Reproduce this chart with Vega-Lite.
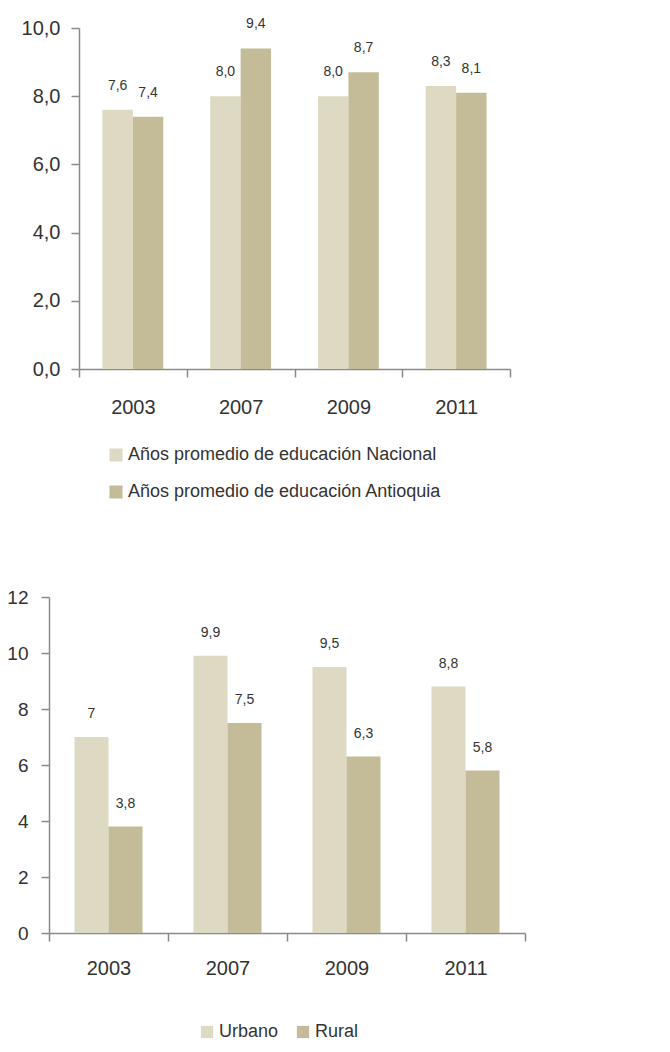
{
  "$schema": "https://vega.github.io/schema/vega-lite/v6.json",
  "background": "white",
  "padding": {"left": 6, "top": 17, "right": 5, "bottom": 5},
  "spacing": 87,
  "config": {
    "locale": {"number": {"decimal": ",", "thousands": ".", "grouping": [3], "currency": ["$", ""]}},
    "font": "Liberation Sans",
    "view": {"stroke": null},
    "axis": {
      "labelFont": "Liberation Sans",
      "labelColor": "#333333",
      "domainColor": "#8a8a8a",
      "tickColor": "#8a8a8a",
      "domainWidth": 1.5,
      "tickWidth": 1.5,
      "tickSize": 8,
      "grid": false
    },
    "legend": {
      "labelFont": "Liberation Sans",
      "labelColor": "#333333",
      "symbolType": "square",
      "symbolStrokeWidth": 0,
      "labelOffset": 3,
      "labelLimit": 500
    }
  },
  "resolve": {
    "scale": {"color": "independent", "xOffset": "independent"},
    "legend": {"color": "independent"}
  },
  "vconcat": [
    {
      "width": 461,
      "height": 341,
      "data": {
        "values": [
          {"year": "2003", "serie": "Años promedio de educación Nacional", "value": 7.6},
          {"year": "2003", "serie": "Años promedio de educación Antioquia", "value": 7.4},
          {"year": "2007", "serie": "Años promedio de educación Nacional", "value": 8.0},
          {"year": "2007", "serie": "Años promedio de educación Antioquia", "value": 9.4},
          {"year": "2009", "serie": "Años promedio de educación Nacional", "value": 8.0},
          {"year": "2009", "serie": "Años promedio de educación Antioquia", "value": 8.7},
          {"year": "2011", "serie": "Años promedio de educación Nacional", "value": 8.3},
          {"year": "2011", "serie": "Años promedio de educación Antioquia", "value": 8.1}
        ]
      },
      "encoding": {
        "x": {
          "field": "year", "type": "nominal",
          "scale": {"paddingInner": 0, "paddingOuter": 0, "range": [30, 461]},
          "axis": {"labelAngle": 0, "tickBand": "extent", "labelFontSize": 20, "labelPadding": 20, "title": null}
        },
        "xOffset": {
          "field": "serie", "type": "nominal",
          "sort": ["Años promedio de educación Nacional", "Años promedio de educación Antioquia"],
          "scale": {"paddingInner": 0, "paddingOuter": 0.77}
        },
        "y": {
          "field": "value", "type": "quantitative",
          "scale": {"domain": [0, 10]},
          "axis": {"values": [0, 2, 4, 6, 8, 10], "format": ".1f", "labelFontSize": 20, "labelPadding": 11, "offset": -30, "title": null}
        }
      },
      "layer": [
        {
          "mark": {"type": "bar"},
          "encoding": {
            "color": {
              "field": "serie", "type": "nominal",
              "sort": ["Años promedio de educación Nacional", "Años promedio de educación Antioquia"],
              "scale": {"range": ["#DED9C3", "#C4BC98"]},
              "legend": {
                "title": null, "orient": "none", "legendX": 58, "legendY": 418,
                "direction": "vertical", "labelFontSize": 18, "symbolSize": 170, "rowPadding": 19
              }
            }
          }
        },
        {
          "mark": {"type": "text", "baseline": "bottom", "dy": -17, "fontSize": 14, "color": "#333333"},
          "encoding": {"text": {"field": "value", "type": "quantitative", "format": ".1f"}}
        }
      ]
    },
    {
      "width": 476,
      "height": 336,
      "data": {
        "values": [
          {"year": "2003", "zona": "Urbano", "value": 7},
          {"year": "2003", "zona": "Rural", "value": 3.8},
          {"year": "2007", "zona": "Urbano", "value": 9.9},
          {"year": "2007", "zona": "Rural", "value": 7.5},
          {"year": "2009", "zona": "Urbano", "value": 9.5},
          {"year": "2009", "zona": "Rural", "value": 6.3},
          {"year": "2011", "zona": "Urbano", "value": 8.8},
          {"year": "2011", "zona": "Rural", "value": 5.8}
        ]
      },
      "encoding": {
        "x": {
          "field": "year", "type": "nominal",
          "scale": {"paddingInner": 0, "paddingOuter": 0},
          "axis": {"labelAngle": 0, "tickBand": "extent", "labelFontSize": 20, "labelPadding": 17, "title": null}
        },
        "xOffset": {
          "field": "zona", "type": "nominal",
          "sort": ["Urbano", "Rural"],
          "scale": {"paddingInner": 0, "paddingOuter": 0.75}
        },
        "y": {
          "field": "value", "type": "quantitative",
          "scale": {"domain": [0, 12]},
          "axis": {"values": [0, 2, 4, 6, 8, 10, 12], "format": "d", "labelFontSize": 19, "labelPadding": 13, "title": null}
        }
      },
      "layer": [
        {
          "mark": {"type": "bar"},
          "encoding": {
            "color": {
              "field": "zona", "type": "nominal",
              "sort": ["Urbano", "Rural"],
              "scale": {"range": ["#DED9C3", "#C4BC98"]},
              "legend": {
                "title": null, "orient": "none", "legendX": 149, "legendY": 426,
                "direction": "horizontal", "labelFontSize": 18, "symbolSize": 150, "columnPadding": 15
              }
            }
          }
        },
        {
          "mark": {"type": "text", "baseline": "bottom", "dy": -16, "fontSize": 14, "color": "#333333"},
          "encoding": {"text": {"field": "value", "type": "quantitative", "format": "~g"}}
        }
      ]
    }
  ]
}
